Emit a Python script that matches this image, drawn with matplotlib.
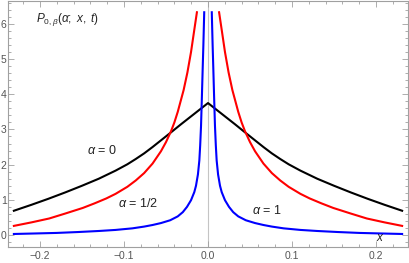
import numpy as np
import matplotlib
matplotlib.use('Agg')
import matplotlib.pyplot as plt
from matplotlib.ticker import MultipleLocator

plt.rcParams['font.family'] = ['Liberation Sans', 'DejaVu Sans']
plt.rcParams['mathtext.fontset'] = 'custom'
plt.rcParams['mathtext.rm'] = 'Liberation Sans'
plt.rcParams['mathtext.it'] = 'Liberation Sans:italic'

# values, right half (x >= 0); the curves are symmetric
x_a0 = [0.000, 0.016, 0.032, 0.046, 0.056, 0.066, 0.076, 0.086, 0.096, 0.110,
        0.130, 0.150, 0.170, 0.190, 0.210, 0.231]
p_a0 = [3.75, 3.45, 3.15, 2.88, 2.69, 2.50, 2.32, 2.16, 2.01, 1.83,
        1.60, 1.40, 1.21, 1.03, 0.86, 0.69]

x_a12 = [0.0132, 0.0165, 0.0202, 0.0245, 0.029, 0.036, 0.040, 0.044, 0.050, 0.056,
         0.066, 0.076, 0.086, 0.096, 0.110, 0.121, 0.135, 0.149, 0.170, 0.189,
         0.210, 0.231]
p_a12 = [6.33, 5.80, 5.20, 4.62, 4.12, 3.50, 3.20, 2.95, 2.64, 2.38,
         2.03, 1.76, 1.55, 1.37, 1.17, 1.04, 0.90, 0.77, 0.61, 0.47,
         0.36, 0.26]

x_a1 = [0.0045, 0.0055, 0.0063, 0.0073, 0.0083, 0.0093, 0.0103, 0.0120, 0.0143, 0.0163,
        0.0202, 0.025, 0.030, 0.036, 0.045, 0.056, 0.066, 0.076, 0.090, 0.110,
        0.130, 0.155, 0.180, 0.205, 0.231]
p_a1 = [6.33, 5.40, 4.75, 3.90, 3.10, 2.55, 2.12, 1.72, 1.40, 1.22,
        0.99, 0.80, 0.65, 0.53, 0.42, 0.34, 0.285, 0.24, 0.19, 0.145,
        0.115, 0.085, 0.06, 0.045, 0.03]

xticks = [-0.2, -0.1, 0.0, 0.1, 0.2]
yticks = [0, 1, 2, 3, 4, 5, 6]

fig = plt.figure(figsize=(4.1, 2.63), dpi=100)
ax = fig.add_axes([8/410, 16/263, 400/410, 246/263])

ax.axvline(0, color='#c4c4c4', lw=0.8, zorder=1)

xb = np.array(x_a0)
pb = np.array(p_a0)
ax.plot(np.concatenate([-xb[::-1], xb[1:]]), np.concatenate([pb[::-1], pb[1:]]),
        color='black', lw=1.5, zorder=3)
for xs, ps, col in [(x_a12, p_a12, 'red'), (x_a1, p_a1, 'blue')]:
    xs = np.array(xs)
    ps = np.array(ps)
    ax.plot(xs, ps, color=col, lw=1.5, zorder=3)
    ax.plot(-xs, ps, color=col, lw=1.5, zorder=3)

ax.set_xlim(-0.238, 0.238)
ax.set_ylim(-0.34, 6.65)
ax.set_xticks(xticks)
ax.set_xticklabels(['\u22120.2', '\u22120.1', '0.0', '0.1', '0.2'])
ax.set_yticks(yticks)
ax.xaxis.set_minor_locator(MultipleLocator(0.02))
ax.yaxis.set_minor_locator(MultipleLocator(0.2))
ax.tick_params(which='both', direction='in', top=True, right=True,
               color='#a0a0a0', width=0.6, labelsize=7.5, labelcolor='#555555')
ax.tick_params(which='major', length=4)
ax.tick_params(which='minor', length=2)
ax.tick_params(axis='x', which='major', pad=3)
ax.tick_params(axis='y', which='major', pad=1)
for s in ax.spines.values():
    s.set_color('#a0a0a0')
    s.set_linewidth(0.8)

tc = '#222222'
ax.text(-0.205, 6.13, r'$P_{0,\beta}(\alpha;\ x,\ t)$', fontsize=8.5, color=tc, va='center')
ax.text(-0.144, 2.41, r'$\alpha$ = 0', fontsize=9, color=tc, va='center')
ax.text(-0.107, 0.90, r'$\alpha$ = 1/2', fontsize=9, color=tc, va='center')
ax.text(0.052, 0.69, r'$\alpha$ = 1', fontsize=9, color=tc, va='center')
ax.text(0.205, -0.08, r'$x$', fontsize=8.5, color=tc, va='center', ha='center')

fig.savefig('out.png', dpi=100)
